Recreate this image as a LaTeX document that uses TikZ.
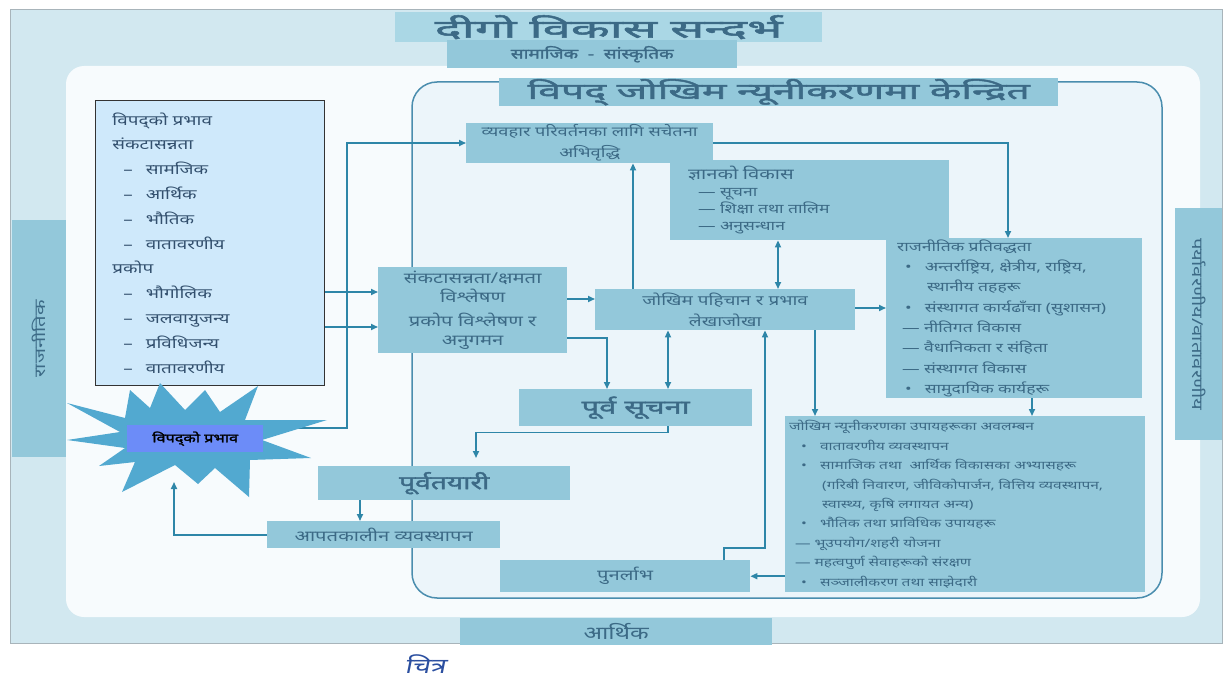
\documentclass[tikz,border=0pt]{standalone}
\usepackage{fontspec}
\usepackage{graphicx}
\setmainfont{Noto Sans}[Script=Devanagari,FakeStretch=1.35]
\newfontfamily\devbf{Noto Sans}[Script=Devanagari,FakeStretch=1.35,FakeBold=2]
\newfontfamily\devit{Noto Sans}[Script=Devanagari,FakeStretch=1.35,FakeSlant=0.2]
\usetikzlibrary{arrows.meta,calc}
\newcommand{\myfs}[2]{\fontsize{#1}{#2}\selectfont}
\definecolor{bgout}{HTML}{D2E8F0}
\definecolor{whitearea}{HTML}{F7FBFD}
\definecolor{titlec}{HTML}{AAD7E5}
\definecolor{boxc}{HTML}{93C8DA}
\definecolor{txt}{HTML}{3C6A86}
\definecolor{ltxt}{HTML}{33506E}
\definecolor{lbox}{HTML}{CFE9FB}
\definecolor{innerc}{HTML}{ECF5FA}
\definecolor{framec}{HTML}{4A8DAE}
\definecolor{arrc}{HTML}{2E86A8}
\definecolor{starc}{HTML}{52A9D0}
\definecolor{starboxc}{HTML}{6C8CF8}
\definecolor{capc}{HTML}{2B4FA0}
\definecolor{edgec}{HTML}{A8B4BA}
\begin{document}
\begin{tikzpicture}[x=1pt,y=-1pt,
  box/.style={fill=boxc, text=txt, inner sep=0pt, anchor=north west, align=center},
  lbx/.style={box, align=left},
  arr/.style={draw=arrc, line width=1.6pt, -{Triangle[length=7pt,width=6pt]}},
  arrtwo/.style={draw=arrc, line width=1.6pt, {Triangle[length=7pt,width=6pt]}-{Triangle[length=7pt,width=6pt]}},
  side/.style={box, text=txt, font=\myfs{17}{20}}]
\useasboundingbox (0,0) rectangle (1227,682);
\fill[white] (0,0) rectangle (1227,682);
% outer background
\fill[bgout] (10,9) rectangle (1222,643);
\draw[edgec, line width=0.8pt] (10,9) rectangle (1222,643);
\fill[whitearea, rounded corners=18pt] (66,66) rectangle (1200,617);
% titles
\node[box, fill=titlec, minimum width=427pt, minimum height=30pt, font=\devbf\myfs{25}{30}, text=txt] (title) at (395,12) {\raisebox{-2pt}{\scalebox{1.5}[1]{दीगो विकास सन्दर्भ}}};
\node[box, minimum width=290pt, minimum height=28pt, font=\devbf\myfs{14}{16}] (socio) at (447,40) {सामाजिक \ - \ सांस्कृतिक};
% side boxes
\node[side, minimum width=54pt, minimum height=237pt] (polside) at (12,220) {};
\node[rotate=90, text=txt, font=\myfs{15}{20}] (poltext) at (polside.center) {राजनीतिक};
\node[side, minimum width=47pt, minimum height=232pt] (envside) at (1175,208) {};
\node[rotate=-90, text=txt, font=\myfs{15}{20}] (envtext) at (envside.center) {पर्यावरणीय/वातावरणीय};
\node[side, minimum width=312pt, minimum height=27pt, font=\myfs{18}{20}] (econ) at (460,618) {आर्थिक};
% DRR frame
\draw[framec, fill=innerc, line width=1.5pt, rounded corners=25pt] (412,82) rectangle (1162,598);
\node[box, minimum width=559pt, minimum height=28pt, font=\devbf\myfs{22}{26}] (drrtitle) at (499,78) {\scalebox{1.38}[1]{विपद् जोखिम न्यूनीकरणमा केन्द्रित}};
% left box
\node[lbx, fill=lbox, draw=black!80, line width=0.8pt, text=ltxt, minimum width=229pt, minimum height=285pt, text width=195pt, inner xsep=17pt, font=\myfs{14}{24.8}] (leftbox) at (95,100) {%
विपद्को प्रभाव\\
संकटासन्नता\\
\hspace*{11pt}–\hspace{13pt}सामजिक\\
\hspace*{11pt}–\hspace{13pt}आर्थिक\\
\hspace*{11pt}–\hspace{13pt}भौतिक\\
\hspace*{11pt}–\hspace{13pt}वातावरणीय\\
प्रकोप\\
\hspace*{11pt}–\hspace{13pt}भौगोलिक\\
\hspace*{11pt}–\hspace{13pt}जलवायुजन्य\\
\hspace*{11pt}–\hspace{13pt}प्रविधिजन्य\\
\hspace*{11pt}–\hspace{13pt}वातावरणीय};
% main boxes
\node[box, minimum width=279pt, minimum height=80pt, text width=243pt, inner xsep=18pt, align=left, font=\myfs{13}{17}] (know) at (670,160) {%
{\myfs{15}{20}ज्ञानको विकास}\\
\hspace*{10pt}— सूचना\\
\hspace*{10pt}— शिक्षा तथा तालिम\\
\hspace*{10pt}— अनुसन्धान};
\node[box, minimum width=247pt, minimum height=40pt, font=\myfs{13.5}{21}] (aware) at (466,123) {व्यवहार परिवर्तनका लागि सचेतना\\अभिवृद्धि};
\node[box, minimum width=256pt, minimum height=160pt, text width=234pt, inner xsep=11pt, align=left, font=\myfs{13}{20.3}] (pol) at (886,238) {%
राजनीतिक प्रतिवद्धता\\
\hspace*{8pt}•\hspace{13pt}अन्तर्राष्ट्रिय, क्षेत्रीय, राष्ट्रिय,\\
\hspace*{30pt}स्थानीय तहहरू\\
\hspace*{8pt}•\hspace{13pt}संस्थागत कार्यढाँचा (सुशासन)\\
\hspace*{5pt}— नीतिगत विकास\\
\hspace*{5pt}— वैधानिकता र संहिता\\
\hspace*{5pt}— संस्थागत विकास\\
\hspace*{8pt}•\hspace{13pt}सामुदायिक कार्यहरू};
\node[box, minimum width=189pt, minimum height=86pt, font=\myfs{15}{19.5}] (vul) at (378,267) {संकटासन्नता/क्षमता\\विश्लेषण\\[4pt]प्रकोप विश्लेषण र\\अनुगमन};
\node[box, minimum width=260pt, minimum height=41pt, font=\myfs{14}{21}] (risk) at (595,289) {जोखिम पहिचान र प्रभाव\\लेखाजोखा};
\node[box, minimum width=233pt, minimum height=37pt, font=\devbf\myfs{19}{20}] (ew) at (519,389) {\scalebox{1.2}[1]{पूर्व सूचना}};
\node[box, minimum width=252pt, minimum height=34pt, font=\devbf\myfs{19}{20}] (prep) at (318,466) {\scalebox{1.1}[1]{पूर्वतयारी}};
\node[box, minimum width=233pt, minimum height=27pt, font=\myfs{15}{18}] (emerg) at (267,521) {आपतकालीन व्यवस्थापन};
\node[box, minimum width=250pt, minimum height=32pt, font=\myfs{15}{18}] (recov) at (500,560) {पुनर्लाभ};
\node[box, minimum width=360pt, minimum height=176pt, text width=352pt, inner xsep=4pt, align=left, font=\myfs{11.5}{19.4}] (drr) at (785,416) {%
जोखिम न्यूनीकरणका उपायहरूका अवलम्बन\\
\hspace*{12pt}•\hspace{13pt}वातावरणीय व्यवस्थापन\\
\hspace*{12pt}•\hspace{13pt}सामाजिक तथा \ आर्थिक विकासका अभ्यासहरू\\
\hspace*{33pt}(गरिबी निवारण, जीविकोपार्जन, वित्तिय व्यवस्थापन,\\
\hspace*{33pt}स्वास्थ्य, कृषि लगायत अन्य)\\
\hspace*{12pt}•\hspace{13pt}भौतिक तथा प्राविधिक उपायहरू\\
\hspace*{6pt}— भूउपयोग/शहरी योजना\\
\hspace*{6pt}— महत्वपुर्ण सेवाहरूको संरक्षण\\
\hspace*{12pt}•\hspace{13pt}सञ्जालीकरण तथा साझेदारी};
% helper coordinates
\coordinate (v1) at ($(vul.north west)+(0,25)$);
\coordinate (v2) at ($(vul.north west)+(0,60)$);
\coordinate (a3y) at ($(aware.north west)+(0,20)$);
\coordinate (sOut) at (285,428);
\coordinate (sIn) at (174,482);
\coordinate (r1) at ($(risk.north west)+(0,10)$);
\coordinate (ewA) at ($(ew.north west)+(88,0)$);
\coordinate (ewB) at ($(ew.north west)+(149,0)$);
\coordinate (awA) at ($(aware.south west)+(167,0)$);
\coordinate (polA) at ($(pol.north west)+(122,0)$);
\coordinate (kA) at ($(risk.north west)+(183,0)$);
\coordinate (pA) at ($(pol.north west)+(0,70)$);
\coordinate (dA) at ($(drr.north west)+(30,0)$);
\coordinate (dB) at ($(drr.north west)+(247,0)$);
\coordinate (prA) at ($(prep.north west)+(158,0)$);
\coordinate (eA) at ($(emerg.north west)+(93,0)$);
\coordinate (rA) at ($(recov.north west)+(224,0)$);
\coordinate (rB) at ($(risk.south west)+(170,0)$);
% connectors
\draw[arr] (leftbox.east |- v1) -- (v1);
\draw[arr] (leftbox.east |- v2) -- (v2);
\draw[arr] (sOut) -- ++(62,0) |- (a3y);
\draw[arr] (vul.east |- r1) -- (r1);
\draw[arr] ($(vul.north east)+(0,71)$) -| (ewA);
\draw[arrtwo] (risk.south -| ewB) -- (ewB);
\draw[arr] (risk.north -| awA) -- (awA);
\draw[arr] (aware.east |- a3y) -| (polA);
\draw[arrtwo] (know.south -| kA) -- (kA);
\draw[arr] (risk.east |- pA) -- (pA);
\draw[arr] (risk.south -| dA) -- (dA);
\draw[arr] (pol.south -| dB) -- (dB);
\draw[arr, shorten >=8pt] (ew.south -| ewB) -- ++(0,6) -| (prA);
\draw[arr] (prep.south -| eA) -- (eA);
\draw[arr] (emerg.west) -| (sIn);
\draw[arr] (drr.west |- recov.east) -- (recov.east);
\draw[arr] (rA) -- ++(0,-12) -| (rB);
% star
\fill[starc] (67,403) -- (125,418) -- (130,390) -- (150,408) -- (160,383) -- (185,410) -- (205,390) -- (220,412) -- (258,386) -- (245,420) -- (327,420) -- (262,440) -- (311,458) -- (250,460) -- (249,497) -- (215,468) -- (198,484) -- (175,465) -- (122,492) -- (135,462) -- (99,466) -- (125,448) -- (67,440) -- (120,432) -- cycle;
\node[box, fill=starboxc, text=black, minimum width=136pt, minimum height=27pt, font=\devbf\myfs{12}{14}] (impact) at (127,425) {विपद्को प्रभाव};
% caption
\node[text=capc, font=\devit\myfs{21}{24}] (cap) at (425,664) {चित्र};
\end{tikzpicture}
\end{document}
